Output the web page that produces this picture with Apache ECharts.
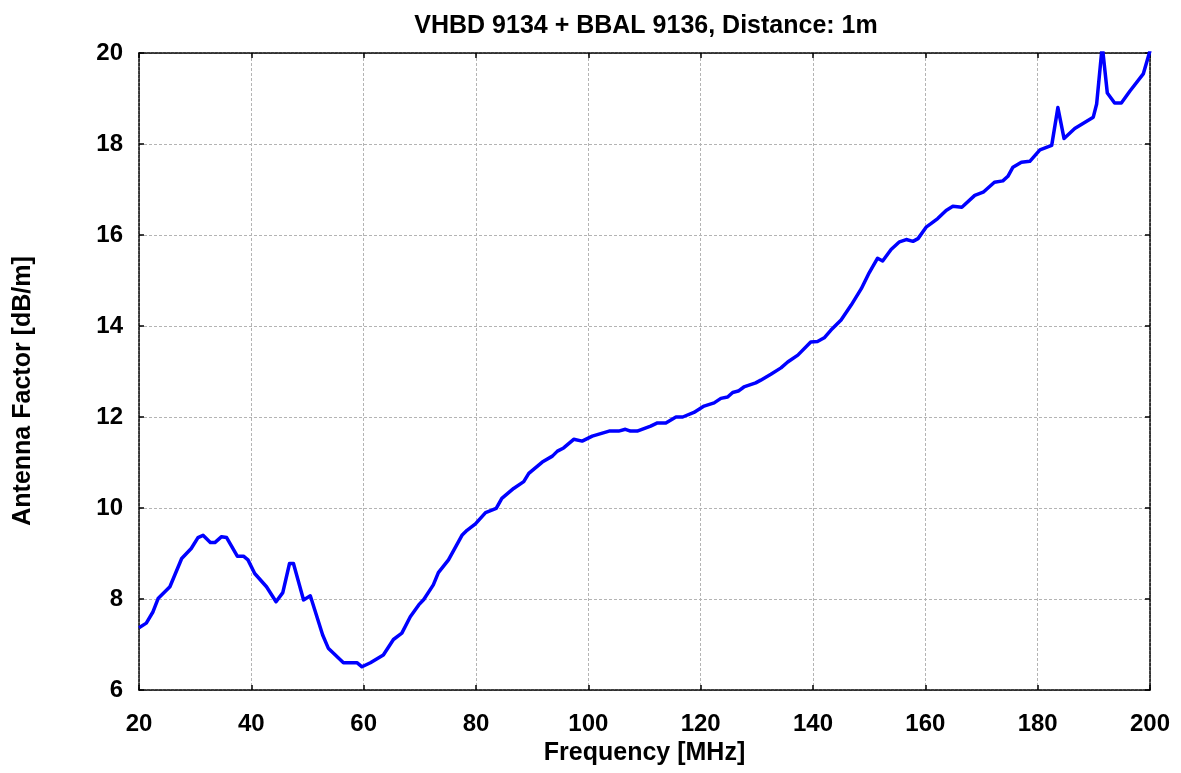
<!DOCTYPE html>
<html>
<head>
<meta charset="utf-8">
<script src="https://cdn.jsdelivr.net/npm/echarts@6/dist/echarts.min.js"></script>
<style>html,body{margin:0;padding:0;background:#fff}#c{width:1181px;height:773px}</style>
</head>
<body>
<div id="c"></div>
<script>
const titleText = 'VHBD 9134 + BBAL 9136, Distance: 1m';
const xName = 'Frequency [MHz]';
const yName = 'Antenna Factor [dB/m]';
const freq = [20,21.3,22.5,23.4,25.5,27.6,29.3,30.5,31.4,32.7,33.5,34.7,35.6,37.5,38.6,39.4,40.6,42.7,44.4,45.6,46.8,47.5,49.3,50.5,51.3,52.7,53.7,56.4,58.8,59.7,61.2,63.5,65.3,66.8,68.3,69.8,70.7,72.4,73.3,75.1,77.5,78.4,79.9,81.7,83.6,84.6,86.7,88.5,89.4,91.8,93.6,94.5,95.6,97.4,98.9,100.7,103.7,105.4,106.6,107.5,108.7,111.1,112.3,113.8,115.6,116.8,118.8,120.6,122.4,123.6,124.8,125.7,126.7,127.7,129.8,130.7,132.5,134.3,135.5,137.3,139.6,140.8,142.0,143.2,145.0,146.8,148.6,150.0,151.5,152.4,153.9,155.4,156.6,157.8,158.7,160.2,161.0,162.2,163.7,164.9,166.5,168.8,170.3,172.3,173.8,174.7,175.6,177.1,178.6,180.4,182.5,183.6,184.7,186.6,189.9,190.5,191.5,192.4,193.7,194.9,196.4,198.8,200];
const af = [7.37,7.47,7.72,8.01,8.27,8.89,9.11,9.35,9.40,9.24,9.24,9.37,9.35,8.94,8.94,8.86,8.56,8.27,7.94,8.14,8.78,8.78,7.98,8.07,7.76,7.21,6.92,6.60,6.60,6.51,6.60,6.77,7.11,7.25,7.61,7.87,7.99,8.31,8.58,8.86,9.40,9.51,9.65,9.90,9.99,10.21,10.43,10.58,10.76,11.01,11.14,11.25,11.32,11.51,11.47,11.58,11.69,11.69,11.73,11.69,11.69,11.80,11.87,11.87,12.00,12.00,12.10,12.24,12.31,12.41,12.44,12.54,12.57,12.66,12.75,12.81,12.94,13.08,13.21,13.36,13.65,13.66,13.74,13.91,14.13,14.46,14.82,15.17,15.49,15.43,15.68,15.85,15.90,15.86,15.92,16.18,16.25,16.36,16.54,16.63,16.61,16.87,16.94,17.16,17.19,17.29,17.49,17.60,17.62,17.87,17.97,18.80,18.12,18.34,18.59,18.88,20.16,19.12,18.90,18.90,19.16,19.54,20.05];
const xMin = 20, xMax = 200, xStep = 20;
const yMin = 6, yMax = 20, yStep = 2;

const font = 'Liberation Sans, Arial, sans-serif';
const data = freq.map((f, i) => [f, af[i]]);
const gridLine = {show: true, lineStyle: {color: '#b4b4b4', type: [3, 2], width: 1}};
const frame = {show: true, lineStyle: {color: '#000', width: 1.5, type: [3, 1]}};
const tick = {show: true, inside: true, length: 5, lineStyle: {color: '#000', width: 1.5}};
const lbl = {fontFamily: font, fontWeight: 'bold', fontSize: 24, color: '#000'};

const chart = echarts.init(document.getElementById('c'), null, {renderer: 'canvas'});
chart.setOption({
  animation: false,
  backgroundColor: '#fff',
  title: {text: titleText, left: 641, top: 9, textAlign: 'center',
    textStyle: {fontFamily: font, fontWeight: 'bold', fontSize: 25, color: '#000'}},
  grid: {left: 139, right: 31, top: 53, bottom: 83, containLabel: false},
  graphic: [{
    type: 'text', x: 23, y: 391, rotation: Math.PI / 2,
    style: {text: yName, align: 'center', verticalAlign: 'middle',
      font: 'bold 25px Liberation Sans, Arial, sans-serif', fill: '#000'}
  }],
  xAxis: [{
    type: 'value', min: xMin, max: xMax, interval: xStep, position: 'bottom',
    name: xName, nameLocation: 'middle', nameGap: 44,
    nameTextStyle: {fontFamily: font, fontWeight: 'bold', fontSize: 25, color: '#000'},
    axisLabel: Object.assign({margin: 22}, lbl),
    axisLine: frame, axisTick: tick, splitLine: gridLine
  }, {
    type: 'value', min: xMin, max: xMax, interval: xStep, position: 'top',
    axisLabel: {show: false}, axisLine: frame, axisTick: tick, splitLine: {show: false}
  }],
  yAxis: [{
    type: 'value', min: yMin, max: yMax, interval: yStep, position: 'left',
    axisLabel: Object.assign({margin: 16}, lbl),
    axisLine: frame, axisTick: tick, splitLine: gridLine
  }, {
    type: 'value', min: yMin, max: yMax, interval: yStep, position: 'right',
    axisLabel: {show: false}, axisLine: frame, axisTick: tick, splitLine: {show: false}
  }],
  series: [{
    type: 'line', data: data, xAxisIndex: 0, yAxisIndex: 0,
    showSymbol: false, smooth: false,
    lineStyle: {color: '#0000ff', width: 3.5, join: 'round'}
  }]
});
</script>
</body>
</html>
